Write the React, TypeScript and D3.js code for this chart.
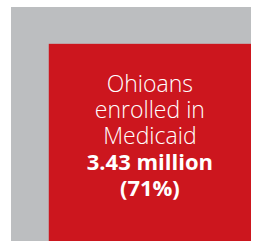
import React from 'react';
import * as d3 from 'd3';

const categories = ['All Ohioans', 'Ohioans enrolled in Medicaid'];
const shares = [1, 0.71];
const colors = ['#bcbec0', '#cc161e'];
const labelLines = ['Ohioans', 'enrolled in', 'Medicaid'];
const valueLines = ['3.43 million', '(71%)'];

const App = () => {
  const width = 254;
  const height = 243;
  const box = { left: 11, top: 7, right: 251, bottom: 241 };

  // nested squares anchored bottom-right, area proportional to share
  const sideX = d3.scaleSqrt().domain([0, 1]).range([0, box.right - box.left]);
  const sideY = d3.scaleSqrt().domain([0, 1]).range([0, box.bottom - box.top]);

  const inner = {
    x: box.right - sideX(shares[1]),
    y: box.bottom - sideY(shares[1]),
  };
  const cx = (inner.x + box.right) / 2;

  const lines = [
    ...labelLines.map(t => ({ text: t, bold: false })),
    ...valueLines.map(t => ({ text: t, bold: true })),
  ];
  const lineY = d3.scaleLinear().domain([0, lines.length - 1]).range([92, 196]);

  return (
    <svg
      width={width}
      height={height}
      style={{ position: 'absolute', left: 0, top: 0 }}
    >
      {shares.map((s, i) => (
        <rect
          key={categories[i]}
          x={box.right - sideX(s)}
          y={box.bottom - sideY(s)}
          width={sideX(s)}
          height={sideY(s)}
          fill={colors[i]}
        />
      ))}
      <text textAnchor="middle" fill="#fff" fontFamily="'Open Sans', sans-serif">
        {lines.map((l, i) => (
          <tspan
            key={i}
            x={cx}
            y={lineY(i)}
            fontWeight={l.bold ? 700 : 300}
            fontSize={l.bold ? 22 : 23}
          >
            {l.text}
          </tspan>
        ))}
      </text>
    </svg>
  );
};

export default App;
